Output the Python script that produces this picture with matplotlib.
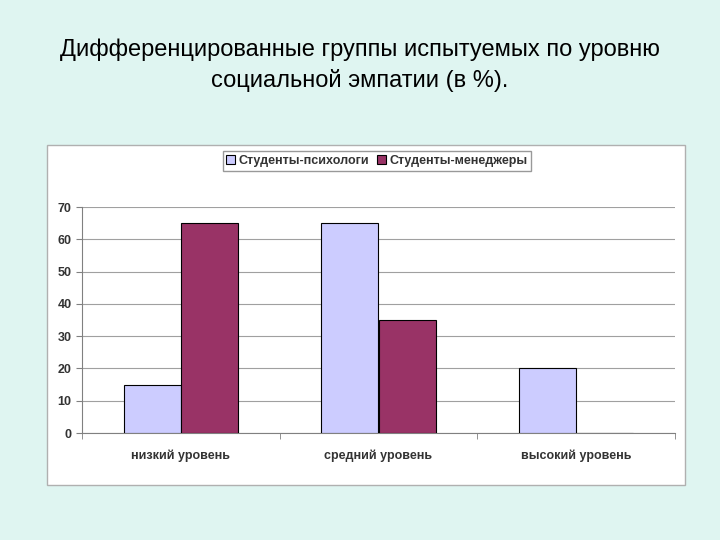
import matplotlib.pyplot as plt
import numpy as np
from matplotlib.patches import Rectangle

plt.rcParams['font.family'] = ['Liberation Sans', 'DejaVu Sans']

categories = ["низкий уровень", "средний уровень", "высокий уровень"]
psych = [15, 65, 20]
managers = [65, 35, 0]
series_names = ["Студенты-психологи", "Студенты-менеджеры"]

fig = plt.figure(figsize=(7.2, 5.4), dpi=100)
fig.patch.set_facecolor('#dff5f1')

# white chart panel
fig.patches.append(Rectangle((47/720, 1-485/540), 638/720, 340/540, transform=fig.transFigure,
                             facecolor='white', edgecolor='#b0b0b0', lw=1, zorder=-5))

fig.text(0.5, 1-50/540, "Дифференцированные группы испытуемых по уровню",
         ha='center', va='center', fontsize=17)
fig.text(0.5, 1-80/540, "социальной эмпатии (в %).", ha='center', va='center', fontsize=17)

ax = fig.add_axes([82/720, 1-433/540, 593/720, 226/540])
ax.set_zorder(2)
ax.set_facecolor('white')
x = np.arange(len(categories))
w = 0.29
b1 = ax.bar(x - w/2, psych, w, color='#ccccff', edgecolor='black', lw=0.8, zorder=3, label=series_names[0])
b2 = ax.bar(x + w/2, managers, w, color='#993366', edgecolor='black', lw=0.8, zorder=3, label=series_names[1])
ax.set_xlim(-0.5, 2.5)
ax.set_ylim(0, 70)
ax.set_yticks(range(0, 71, 10))
ax.yaxis.grid(True, color='#a0a0a0', lw=0.8, zorder=0)
ax.set_xticks(x)
ax.set_xticklabels(categories, fontsize=9, fontweight='bold', color='#333333')
ax.set_xticks([-0.5, 0.5, 1.5, 2.5], minor=True)
ax.tick_params(axis='x', which='major', length=0, pad=12)
ax.tick_params(axis='x', which='minor', length=4, color='#808080')
ax.tick_params(axis='y', labelsize=9, color='#808080', length=4, labelcolor='#333333')
for l in ax.get_yticklabels():
    l.set_fontweight('bold')
for s in ['top', 'right']:
    ax.spines[s].set_visible(False)
for s in ['left', 'bottom']:
    ax.spines[s].set_color('#808080')

leg = fig.legend(handles=[b1, b2], loc='center', bbox_to_anchor=(377/720, 1-161/540), ncol=2,
                 fontsize=9, frameon=True, fancybox=False, edgecolor='#808080',
                 handlelength=0.7, handleheight=0.7, columnspacing=0.6, handletextpad=0.3,
                 borderpad=0.3)
for t in leg.get_texts():
    t.set_fontweight('bold')
    t.set_color('#333333')

fig.savefig('out.png', dpi=100, facecolor=fig.get_facecolor())
